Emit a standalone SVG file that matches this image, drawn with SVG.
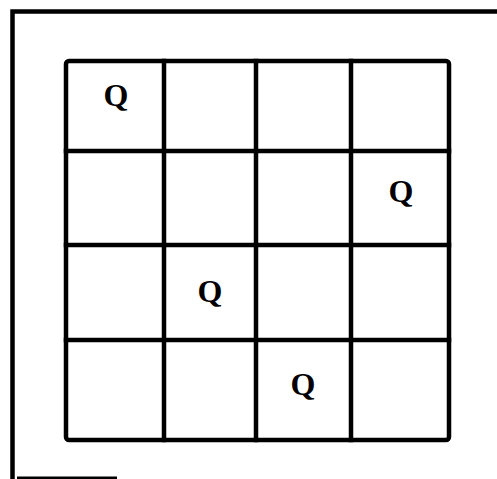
<svg xmlns="http://www.w3.org/2000/svg" width="497" height="479" viewBox="0 0 497 479">
<style>
.ln{stroke:#000;stroke-width:4.5;fill:none;stroke-linecap:square}
.q{font-family:"Liberation Serif","Times New Roman",serif;font-weight:bold;font-size:32px;text-anchor:middle;fill:#000}
</style>
<rect width="497" height="479" fill="#fff"/>
<g id="frame">
<path class="ln" d="M12.5,479 V11.5 H497"/>
<path d="M17,478 H117" stroke="#000" stroke-width="3"/>
</g>
<g id="board">
<rect x="66" y="61" width="383" height="379" rx="3" class="ln"/>
<g id="grid-lines">
<path class="ln" d="M164,61 V440 M256,61 V440 M351,61 V440"/>
<path class="ln" d="M66,151 H449 M66,245 H449 M66,340 H449"/>
</g>
</g>
<g id="q1"><text class="q" x="116" y="106">Q</text></g>
<g id="q2"><text class="q" x="401" y="202">Q</text></g>
<g id="q3"><text class="q" x="210" y="302">Q</text></g>
<g id="q4"><text class="q" x="303" y="395">Q</text></g>
</svg>
